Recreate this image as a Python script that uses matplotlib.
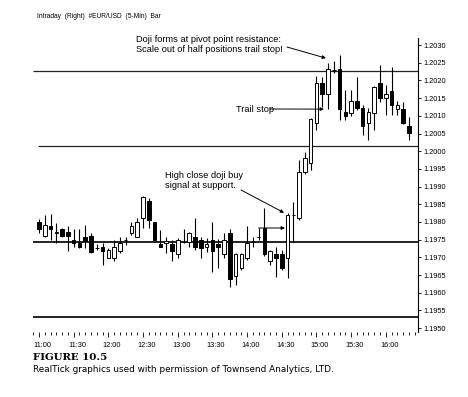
import matplotlib
matplotlib.use("Agg")
import matplotlib.pyplot as plt
import matplotlib.transforms as mtransforms
from matplotlib import font_manager
from matplotlib.ticker import FixedLocator, MultipleLocator

# 5-minute EUR/USD bars, 11:00 to 16:20
opens = [1.19799, 1.19761, 1.19790, 1.19770, 1.19780, 1.19771, 1.19749, 1.19740,
         1.19758, 1.19761, 1.19727, 1.19730, 1.19697, 1.19697, 1.19719, 1.19749,
         1.19768, 1.19758, 1.19810, 1.19859, 1.19799, 1.19737, 1.19740, 1.19738,
         1.19710, 1.19744, 1.19743, 1.19758, 1.19749, 1.19729, 1.19749, 1.19737,
         1.19710, 1.19768, 1.19647, 1.19669, 1.19699, 1.19744, 1.19758, 1.19782,
         1.19690, 1.19709, 1.19709, 1.19699, 1.19820, 1.19810, 1.19940, 1.19966,
         1.20079, 1.20192, 1.20162, 1.20229, 1.20231, 1.20112, 1.20109, 1.20142,
         1.20121, 1.20079, 1.20109, 1.20192, 1.20151, 1.20171, 1.20119, 1.20119,
         1.20071]
highs = [1.19808, 1.19820, 1.19822, 1.19796, 1.19782, 1.19790, 1.19779, 1.19779,
         1.19792, 1.19770, 1.19738, 1.19740, 1.19726, 1.19749, 1.19758, 1.19758,
         1.19799, 1.19810, 1.19872, 1.19869, 1.19801, 1.19777, 1.19758, 1.19749,
         1.19754, 1.19780, 1.19773, 1.19810, 1.19758, 1.19754, 1.19801, 1.19751,
         1.19768, 1.19779, 1.19712, 1.19712, 1.19789, 1.19758, 1.19783, 1.19839,
         1.19721, 1.19730, 1.19721, 1.19826, 1.19857, 1.19975, 1.19999, 1.20093,
         1.20213, 1.20210, 1.20250, 1.20256, 1.20272, 1.20173, 1.20173, 1.20210,
         1.20131, 1.20121, 1.20184, 1.20244, 1.20187, 1.20239, 1.20142, 1.20140,
         1.20097]
lows = [1.19768, 1.19758, 1.19749, 1.19740, 1.19758, 1.19718, 1.19730, 1.19726,
        1.19726, 1.19712, 1.19721, 1.19677, 1.19697, 1.19690, 1.19712, 1.19735,
        1.19763, 1.19758, 1.19782, 1.19782, 1.19747, 1.19730, 1.19712, 1.19690,
        1.19697, 1.19740, 1.19730, 1.19721, 1.19697, 1.19716, 1.19658, 1.19669,
        1.19697, 1.19617, 1.19622, 1.19664, 1.19693, 1.19730, 1.19749, 1.19704,
        1.19679, 1.19645, 1.19664, 1.19641, 1.19744, 1.19806, 1.19935, 1.19947,
        1.20060, 1.20126, 1.20119, 1.20220, 1.20088, 1.20088, 1.20099, 1.20116,
        1.20046, 1.20032, 1.20060, 1.20140, 1.20102, 1.20102, 1.20102, 1.20077,
        1.20032]
closes = [1.19780, 1.19792, 1.19780, 1.19770, 1.19761, 1.19760, 1.19740, 1.19730,
          1.19747, 1.19716, 1.19727, 1.19718, 1.19721, 1.19729, 1.19740, 1.19749,
          1.19790, 1.19799, 1.19870, 1.19806, 1.19749, 1.19730, 1.19746, 1.19718,
          1.19749, 1.19744, 1.19768, 1.19730, 1.19727, 1.19737, 1.19719, 1.19729,
          1.19749, 1.19638, 1.19709, 1.19709, 1.19740, 1.19744, 1.19758, 1.19709,
          1.19718, 1.19699, 1.19669, 1.19820, 1.19820, 1.19942, 1.19980, 1.20090,
          1.20192, 1.20161, 1.20231, 1.20229, 1.20118, 1.20099, 1.20142, 1.20121,
          1.20071, 1.20112, 1.20182, 1.20149, 1.20162, 1.20131, 1.20131, 1.20079,
          1.20051]

# horizontal pivot / support levels
levels = [1.20227, 1.20014, 1.19744, 1.19532]
level_start = [-1.1, -0.2, -1.1, -1.1]
level_width = [0.9, 0.9, 1.4, 1.4]

time_labels = ["11:00", "11:30", "12:00", "12:30", "13:00", "13:30",
               "14:00", "14:30", "15:00", "15:30", "16:00"]
price_ticks = [1.1950 + 0.0005 * k for k in range(17)]

available = {f.name for f in font_manager.fontManager.ttflist}
narrow = "Liberation Sans Narrow" if "Liberation Sans Narrow" in available else "Liberation Sans"

W, H = 468, 397
fig = plt.figure(figsize=(W / 100, H / 100), dpi=100)
fig.patch.set_facecolor("white")
ax = fig.add_axes([33 / W, 1 - 332 / H, (418.5 - 33) / W, (332 - 38) / H])

n = len(opens)
xs = list(range(n))

for lvl, x0, lw in zip(levels, level_start, level_width):
    ax.hlines(lvl, x0, 66, color="#222222", lw=lw, zorder=1)

ax.vlines(xs, lows, highs, color="black", lw=0.8, zorder=2)
bottoms = [min(o, c) for o, c in zip(opens, closes)]
heights = [max(abs(c - o), 0.000008) for o, c in zip(opens, closes)]
colors = ["white" if c >= o else "black" for o, c in zip(opens, closes)]
ax.bar(xs, heights, bottom=bottoms, width=0.62, color=colors,
       edgecolor="black", linewidth=0.7, zorder=3)

ax.set_xlim(-1.04, 65.66)
ax.set_ylim(1.19489, 1.20320)

for s in ["left", "top", "bottom"]:
    ax.spines[s].set_visible(False)
ax.spines["right"].set_linestyle((0, (1, 1)))
ax.spines["right"].set_linewidth(0.8)

ax.yaxis.tick_right()
ax.set_yticks(price_ticks)
ax.set_yticklabels([f"{p:.4f}" for p in price_ticks], fontsize=5.3, family=narrow)
ax.tick_params(axis="y", length=2, width=0.6, pad=1.5)

ax.xaxis.set_major_locator(FixedLocator(range(0, 61, 6)))
ax.xaxis.set_minor_locator(MultipleLocator(1))
ax.set_xticklabels(time_labels, fontsize=5.3, family=narrow)
ax.tick_params(axis="x", which="major", length=3.5, width=0.6, pad=3.5)
ax.tick_params(axis="x", which="minor", length=2, width=0.6)
shift = mtransforms.ScaledTranslation(3.5 / 100, 0, fig.dpi_scale_trans)
for lab in ax.get_xticklabels():
    lab.set_transform(lab.get_transform() + shift)

def fp(px, py):
    return px / W, 1 - py / H

txt = dict(fontsize=6.7, family="Liberation Sans", va="center", ha="left")
fig.text(*fp(37, 17), "Intraday  (Right)  #EUR/USD  (5-Min)  Bar", fontsize=4.8,
         family=narrow, va="center")
fig.text(*fp(136, 39), "Doji forms at pivot point resistance:", **txt)
fig.text(*fp(136, 50), "Scale out of half positions trail stop!", **txt)
fig.text(*fp(236, 109), "Trail stop", **txt)
fig.text(*fp(165, 175), "High close doji buy", **txt)
fig.text(*fp(165, 186), "signal at support.", **txt)

arrow = dict(arrowstyle="-|>", lw=0.7, color="black", shrinkA=0, shrinkB=0,
             mutation_scale=5)
ax.annotate("", xy=(50 - 0.35, highs[50] + 0.00013), xytext=(287, H - 47),
            textcoords="figure pixels", arrowprops=arrow)
ax.annotate("", xy=(50 - 0.7, lows[50]), xytext=(270, H - 109),
            textcoords="figure pixels", arrowprops=arrow)
ax.annotate("", xy=(43 - 0.6, highs[43]), xytext=(241, H - 190),
            textcoords="figure pixels", arrowprops=arrow)
ax.annotate("", xy=(43 - 0.45, highs[38]), xytext=(38, highs[38]),
            textcoords="data", arrowprops=arrow)

fig.text(*fp(33, 357), "FIGURE 10.5", fontsize=7.4, family="DejaVu Serif",
         weight="bold", va="center")
fig.text(*fp(33, 370), "RealTick graphics used with permission of Townsend Analytics, LTD.",
         fontsize=6.4, family="DejaVu Sans", va="center")

fig.savefig("out.png", dpi=100, facecolor="white")
